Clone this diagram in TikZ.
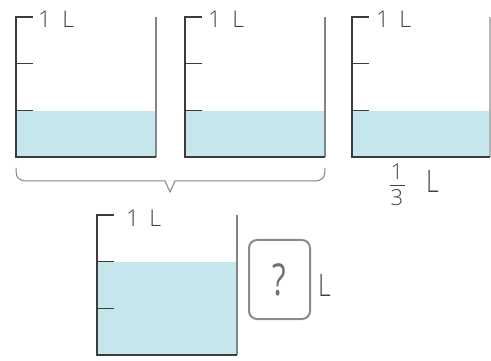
\documentclass[tikz,border=0pt]{standalone}
\usepackage{fontspec}
\setmainfont{Open Sans Light}
\newfontfamily\qfont{Open Sans}
\definecolor{water}{HTML}{C6E6EE}
\definecolor{wallc}{HTML}{3C3C3C}
\definecolor{rwallc}{HTML}{858585}
\definecolor{txtc}{HTML}{404040}
\definecolor{qc}{HTML}{707070}
\definecolor{boxc}{HTML}{8A8A8A}
\newcommand{\drawbeaker}[6]{% left, right, top, bottom, water top, right wall colour
  \fill[water] (#1,#5) rectangle (#2,#4);
  \draw[line width=1.5pt,#6] (#2,#3) -- (#2,#4);
  \draw[wall] (#1+17,#3) -- (#1,#3) -- (#1,#4) -- (#2,#4);
  \pgfmathsetmacro{\tka}{#3+(#4-#3)/3}
  \pgfmathsetmacro{\tkb}{#3+2*(#4-#3)/3}
  \draw[tick] (#1,\tka) -- (#1+17,\tka);
  \draw[tick] (#1,\tkb) -- (#1+17,\tkb);
}
\begin{document}
\begin{tikzpicture}[x=1pt,y=-1pt,
  wall/.style={line width=1.8pt,wallc,line join=miter},
  tick/.style={line width=1.4pt,wallc},
  smalllab/.style={inner sep=0pt,anchor=base west,text=txtc,font=\fontsize{23}{23}\selectfont},
  fraclab/.style={inner sep=0pt,anchor=base,text=txtc,font=\fontsize{22}{22}\selectfont},
  biglab/.style={inner sep=0pt,anchor=base west,text=txtc,font=\fontsize{31}{31}\selectfont},
  qbox/.style={draw=boxc,line width=2pt,rounded corners=8pt},
  bracec/.style={draw=rwallc,line width=1pt}]
\useasboundingbox (0,0) rectangle (491,361);
\drawbeaker{16}{156}{17}{157}{111}{rwallc}
\drawbeaker{185}{325}{17}{157}{111}{rwallc}
\drawbeaker{352}{490}{17}{157}{111}{rwallc!60}
\drawbeaker{97}{237}{215}{355}{262}{rwallc}
\node[smalllab] (l1) at (38,28) {1\kern11pt L};
\node[smalllab] (l2) at (208,28) {1\kern11pt L};
\node[smalllab] (l3) at (376,28) {1\kern10pt L};
\node[smalllab] (l4) at (126,226) {1\kern10pt L};
% brace
\coordinate (bs) at (16,168);
\coordinate (be) at (325,168);
\coordinate (bt) at (170,192);
\draw[bracec] (bs) .. controls (16,178) and (18,181) .. (28,181) -- (165,181) -- (bt) -- (175,181) -- (313,181) .. controls (323,181) and (325,178) .. (be);
% fraction
\node[fraclab] (fn) at (397,179) {1};
\node[fraclab] (fd) at (397,205) {3};
\draw[draw=txtc,line width=0.8pt] (fn.south) ++(-7,6) coordinate (fb1) -- ++(15,0) coordinate (fb2);
\node[biglab] (fl) at (426,193) {\scalebox{0.8}[1]{L}};
% question box
\draw[qbox] (249,240) rectangle (310,319);
\node[inner sep=0pt,text=qc,font=\qfont\fontsize{44}{44}\selectfont] (q) at (279.5,279.5) {\scalebox{0.72}[1]{?}};
\node[biglab] (ql) at (318,296) {\scalebox{0.8}[1]{L}};
\end{tikzpicture}
\end{document}
